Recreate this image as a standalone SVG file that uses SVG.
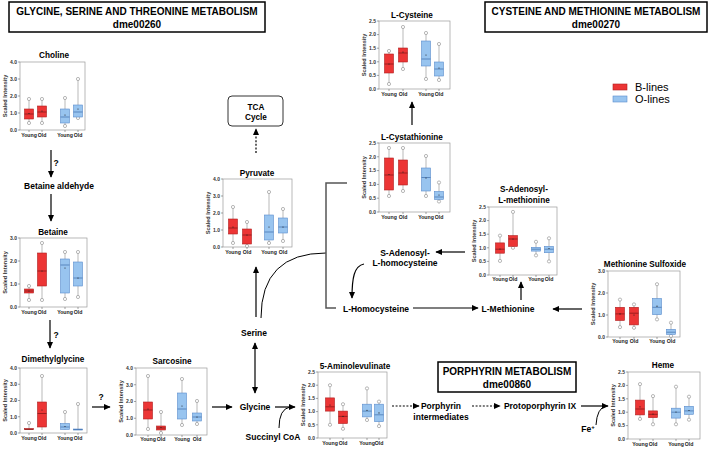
<svg xmlns="http://www.w3.org/2000/svg" width="709" height="450" viewBox="0 0 709 450">
<defs>
<marker id="ah" viewBox="0 0 10 10" refX="9" refY="5" markerUnits="userSpaceOnUse" markerWidth="7" markerHeight="7" orient="auto-start-reverse"><path d="M0,0.5 L10,5 L0,9.5 z" fill="#000"/></marker>
</defs>
<style>
text{font-family:"Liberation Sans",Arial,sans-serif}
.hb{fill:#fff;stroke:#000;stroke-width:1.5}
.hd{font-size:10px;font-weight:bold;text-anchor:middle}
.nm{font-size:8.5px;font-weight:bold;text-anchor:middle}
.ttl{font-size:8.2px;font-weight:bold;text-anchor:middle}
.frame{fill:none;stroke:#9a9a9a;stroke-width:.7}
.tk{stroke:#666;stroke-width:.6;fill:none}
.tl{font-size:5px;font-weight:bold;fill:#333;text-anchor:end}
.yl{font-size:5.6px;font-weight:bold;fill:#333;text-anchor:middle}
.xl{font-size:5.2px;font-weight:bold;fill:#222;text-anchor:middle}
.wh{stroke:#8a8a8a;stroke-width:.6}
.oc{fill:#fff;stroke:#8a8a8a;stroke-width:.6}
.bR{fill:#ec3535;stroke:#b01e1e;stroke-width:.6}
.bB{fill:#98c4ef;stroke:#5a8ccc;stroke-width:.6}
.mR{stroke:#6a0d0d;stroke-width:.6}
.mB{stroke:#2f5f9f;stroke-width:.6}
.mn{fill:#222}
.ar{stroke:#000;stroke-width:1.2;fill:none;marker-end:url(#ah)}
.ar2{stroke:#000;stroke-width:1.2;fill:none;marker-end:url(#ah);marker-start:url(#ah)}
.ln{stroke:#000;stroke-width:1;fill:none}
.br{stroke:#555;stroke-width:1.5;fill:none}
.ds{stroke-dasharray:2 1.6}
.lg{font-size:11px}
</style>

<!-- pathway section headers -->
<g id="hdr-gst"><rect class="hb" x="9" y="2" width="256" height="30"/><text class="hd" x="137" y="14.5">GLYCINE, SERINE AND THREONINE METABOLISM</text><text class="hd" x="137" y="28">dme00260</text></g>
<g id="hdr-cm"><rect class="hb" x="485" y="2" width="222" height="30"/><text class="hd" x="596" y="14.5">CYSTEINE AND METHIONINE METABOLISM</text><text class="hd" x="596" y="28">dme00270</text></g>
<g id="hdr-por"><rect class="hb" x="438" y="362" width="138" height="30"/><text class="hd" x="507" y="375">PORPHYRIN METABOLISM</text><text class="hd" x="507" y="388">dme00860</text></g>

<!-- legend -->
<g id="legend"><rect class="bR" x="613" y="84" width="14" height="6"/><text class="lg" x="635" y="91">B-lines</text><rect class="bB" x="613" y="96" width="14" height="6"/><text class="lg" x="635" y="103">O-lines</text></g>

<!-- connectors -->
<g id="connectors">
<path class="ar" d="M51,150 V177"/>
<path class="ar" d="M51,194 V221"/>
<path class="ar" d="M50,320 V348"/>
<path class="ar" d="M92,407 H110"/>
<path class="ar" d="M212,407 H232"/>
<path class="ar" d="M275,407 H295"/>
<path class="ln" d="M279,428 Q279,409 290,407"/>
<path class="ar2" d="M255,343 V393"/>
<path class="ar" d="M256,317 V267"/>
<path class="ar ds" d="M256,153 V129"/>
<path class="ln" d="M261,318 Q261,253 326,253"/>
<path class="br" d="M347,183 H326 V308 H336"/>
<path class="ar" d="M412,125 V102"/>
<path class="ar" d="M413,308 H478"/>
<path class="ar" d="M521,300 V282"/>
<path class="ar" d="M465,252 H436"/>
<path class="ar" d="M364,264 C354,266 352,278 352,298"/>
<path class="ar" d="M582,309 H553"/>
<path class="ar ds" d="M392,406 H419"/>
<path class="ar ds" d="M472,406 H500"/>
<path class="ar" d="M581,406 H608"/>
<path class="ln" d="M596,425 Q597,408 606,406"/>
</g>

<!-- pathway labels -->
<g id="lbl-q" class="nm"><text x="56" y="166">?</text><text x="56" y="338">?</text><text x="101" y="400">?</text></g>
<g id="n-betald"><text class="nm" x="59" y="189">Betaine aldehyde</text></g>
<g id="n-tca"><rect x="228" y="96" width="55" height="30" rx="4" fill="#fff" stroke="#333" stroke-width="1"/><text class="ttl" x="256" y="110">TCA</text><text class="ttl" x="256" y="120">Cycle</text></g>
<g id="n-serine"><text class="nm" x="254" y="336">Serine</text></g>
<g id="n-glycine"><text class="nm" x="255" y="410">Glycine</text></g>
<g id="n-succ"><text class="nm" x="273" y="440">Succinyl CoA</text></g>
<g id="n-sah"><text class="nm" x="405" y="256">S-Adenosyl-</text><text class="nm" x="405" y="266">L-homocysteine</text></g>
<g id="n-hcy"><text class="nm" x="376" y="312">L-Homocysteine</text></g>
<g id="n-met"><text class="nm" x="508" y="312">L-Methionine</text></g>
<g id="n-porint"><text class="nm" x="441" y="409">Porphyrin</text><text class="nm" x="441" y="420">intermediates</text></g>
<g id="n-ppix"><text class="nm" x="540" y="409">Protoporphyrin IX</text></g>
<g id="n-fe"><text class="nm" x="588" y="432">Fe<tspan font-size="6" dy="-3">+</tspan></text></g>

<!-- Choline -->
<g id="c-choline">
<text class="ttl" x="54" y="58">Choline</text>
<rect class="frame" x="20" y="62" width="65" height="68"/>
<path class="tk" d="M18,62h2M18,79h2M18,96h2M18,113h2M18,130h2M29,130v2M42,130v2M65,130v2M78,130v2"/>
<text class="tl" x="17" y="63.8">4.0</text><text class="tl" x="17" y="80.8">3.0</text><text class="tl" x="17" y="97.8">2.0</text><text class="tl" x="17" y="114.8">1.0</text><text class="tl" x="17" y="131.8">0.0</text>
<text class="yl" transform="translate(7,96) rotate(-90)">Scaled Intensity</text>
<line class="wh" x1="29" y1="99" x2="29" y2="123"/><circle class="oc" cx="29" cy="99" r="1.6"/><circle class="oc" cx="29" cy="123" r="1.6"/><rect class="bR" x="24.5" y="109" width="9" height="10"/><line class="mR" x1="24.5" y1="114" x2="33.5" y2="114"/><circle class="mn" cx="29" cy="113.5" r=".6"/>
<line class="wh" x1="42" y1="99" x2="42" y2="123"/><circle class="oc" cx="42" cy="99" r="1.6"/><circle class="oc" cx="42" cy="123" r="1.6"/><rect class="bR" x="37.5" y="106" width="9" height="11"/><line class="mR" x1="37.5" y1="112" x2="46.5" y2="112"/><circle class="mn" cx="42" cy="111" r=".6"/>
<line class="wh" x1="65" y1="98" x2="65" y2="126"/><circle class="oc" cx="65" cy="98" r="1.6"/><circle class="oc" cx="65" cy="126" r="1.6"/><rect class="bB" x="60.5" y="109" width="9" height="14"/><line class="mB" x1="60.5" y1="117" x2="69.5" y2="117"/><circle class="mn" cx="65" cy="115" r=".6"/>
<line class="wh" x1="78" y1="79" x2="78" y2="118"/><circle class="oc" cx="78" cy="79" r="1.6"/><circle class="oc" cx="78" cy="118" r="1.6"/><rect class="bB" x="73.5" y="105" width="9" height="12"/><line class="mB" x1="73.5" y1="112" x2="82.5" y2="112"/><circle class="mn" cx="78" cy="109" r=".6"/>
<text class="xl" x="29" y="137">Young</text><text class="xl" x="42" y="137">Old</text><text class="xl" x="65" y="137">Young</text><text class="xl" x="78" y="137">Old</text>
</g>

<!-- Betaine -->
<g id="c-betaine">
<text class="ttl" x="53" y="235">Betaine</text>
<rect class="frame" x="20" y="238" width="67" height="69"/>
<path class="tk" d="M18,238h2M18,261h2M18,284h2M18,307h2M29,307v2M42,307v2M65,307v2M78,307v2"/>
<text class="tl" x="17" y="239.8">3.0</text><text class="tl" x="17" y="262.8">2.0</text><text class="tl" x="17" y="285.8">1.0</text><text class="tl" x="17" y="308.8">0.0</text>
<text class="yl" transform="translate(7,272.5) rotate(-90)">Scaled Intensity</text>
<line class="wh" x1="29" y1="286" x2="29" y2="300"/><circle class="oc" cx="29" cy="286" r="1.6"/><circle class="oc" cx="29" cy="300" r="1.6"/><rect class="bR" x="24.5" y="289" width="9" height="4"/><line class="mR" x1="24.5" y1="291" x2="33.5" y2="291"/><circle class="mn" cx="29" cy="291" r=".6"/>
<line class="wh" x1="42" y1="243" x2="42" y2="300"/><circle class="oc" cx="42" cy="243" r="1.6"/><circle class="oc" cx="42" cy="300" r="1.6"/><rect class="bR" x="37.5" y="253" width="9" height="33"/><line class="mR" x1="37.5" y1="271" x2="46.5" y2="271"/><circle class="mn" cx="42" cy="271" r=".6"/>
<line class="wh" x1="65" y1="252" x2="65" y2="299"/><circle class="oc" cx="65" cy="252" r="1.6"/><circle class="oc" cx="65" cy="299" r="1.6"/><rect class="bB" x="60.5" y="259" width="9" height="34"/><line class="mB" x1="60.5" y1="265" x2="69.5" y2="265"/><circle class="mn" cx="65" cy="268" r=".6"/>
<line class="wh" x1="78" y1="252" x2="78" y2="297"/><circle class="oc" cx="78" cy="252" r="1.6"/><circle class="oc" cx="78" cy="297" r="1.6"/><rect class="bB" x="73.5" y="262" width="9" height="24"/><line class="mB" x1="73.5" y1="278" x2="82.5" y2="278"/><circle class="mn" cx="78" cy="278" r=".6"/>
<text class="xl" x="29" y="314">Young</text><text class="xl" x="42" y="314">Old</text><text class="xl" x="65" y="314">Young</text><text class="xl" x="78" y="314">Old</text>
</g>

<!-- Dimethylglycine -->
<g id="c-dmg">
<text class="ttl" x="53" y="362">Dimethylglycine</text>
<rect class="frame" x="20" y="368" width="67" height="65"/>
<path class="tk" d="M18,368h2M18,384.25h2M18,400.5h2M18,416.75h2M18,433h2M29,433v2M42,433v2M65,433v2M78,433v2"/>
<text class="tl" x="17" y="369.8">4.0</text><text class="tl" x="17" y="386">3.0</text><text class="tl" x="17" y="402.3">2.0</text><text class="tl" x="17" y="418.5">1.0</text><text class="tl" x="17" y="434.8">0.0</text>
<text class="yl" transform="translate(7,400.5) rotate(-90)">Scaled Intensity</text>
<line class="wh" x1="29" y1="423" x2="29" y2="429.5"/><circle class="oc" cx="29" cy="423" r="1.6"/><rect class="bR" x="24.5" y="428.6" width="9" height="1"/><line class="mR" x1="24.5" y1="429.3" x2="33.5" y2="429.3"/>
<line class="wh" x1="42" y1="376" x2="42" y2="430"/><circle class="oc" cx="42" cy="376" r="1.6"/><rect class="bR" x="37.5" y="402" width="9" height="25"/><line class="mR" x1="37.5" y1="413.5" x2="46.5" y2="413.5"/><circle class="mn" cx="42" cy="410" r=".6"/>
<line class="wh" x1="65" y1="412" x2="65" y2="430"/><circle class="oc" cx="65" cy="412" r="1.6"/><rect class="bB" x="60.5" y="423.5" width="9" height="6"/><line class="mB" x1="60.5" y1="427" x2="69.5" y2="427"/><circle class="mn" cx="65" cy="426.5" r=".6"/>
<line class="wh" x1="78" y1="404" x2="78" y2="430"/><circle class="oc" cx="78" cy="404" r="1.6"/><rect class="bB" x="73.5" y="429" width="9" height="1"/><line class="mB" x1="73.5" y1="429.6" x2="82.5" y2="429.6"/>
<text class="xl" x="29" y="440">Young</text><text class="xl" x="42" y="440">Old</text><text class="xl" x="65" y="440">Young</text><text class="xl" x="78" y="440">Old</text>
</g>

<!-- Sarcosine -->
<g id="c-sarcosine">
<text class="ttl" x="172" y="364">Sarcosine</text>
<rect class="frame" x="136" y="368" width="71" height="67"/>
<path class="tk" d="M134,368h2M134,384.75h2M134,401.5h2M134,418.25h2M134,435h2M148,435v2M161,435v2M182,435v2M197,435v2"/>
<text class="tl" x="133" y="369.8">4.0</text><text class="tl" x="133" y="386.5">3.0</text><text class="tl" x="133" y="403.3">2.0</text><text class="tl" x="133" y="420">1.0</text><text class="tl" x="133" y="436.8">0.0</text>
<text class="yl" transform="translate(123,401.5) rotate(-90)">Scaled Intensity</text>
<line class="wh" x1="148" y1="376" x2="148" y2="429"/><circle class="oc" cx="148" cy="376" r="1.6"/><circle class="oc" cx="148" cy="429" r="1.6"/><rect class="bR" x="143.5" y="402" width="9" height="17"/><line class="mR" x1="143.5" y1="410" x2="152.5" y2="410"/><circle class="mn" cx="148" cy="409" r=".6"/>
<line class="wh" x1="161" y1="412" x2="161" y2="433"/><circle class="oc" cx="161" cy="412" r="1.6"/><circle class="oc" cx="161" cy="433" r="1.6"/><rect class="bR" x="156.5" y="426" width="9" height="4"/><line class="mR" x1="156.5" y1="428" x2="165.5" y2="428"/><circle class="mn" cx="161" cy="427.5" r=".6"/>
<line class="wh" x1="182" y1="379" x2="182" y2="425"/><circle class="oc" cx="182" cy="379" r="1.6"/><circle class="oc" cx="182" cy="425" r="1.6"/><rect class="bB" x="177.5" y="393" width="9" height="26"/><line class="mB" x1="177.5" y1="409" x2="186.5" y2="409"/><circle class="mn" cx="182" cy="406" r=".6"/>
<line class="wh" x1="197" y1="401" x2="197" y2="424"/><circle class="oc" cx="197" cy="401" r="1.6"/><circle class="oc" cx="197" cy="424" r="1.6"/><rect class="bB" x="192.5" y="413" width="9" height="8"/><line class="mB" x1="192.5" y1="417" x2="201.5" y2="417"/><circle class="mn" cx="197" cy="417" r=".6"/>
<text class="xl" x="148" y="441">Young</text><text class="xl" x="161" y="441">Old</text><text class="xl" x="182" y="441">Young</text><text class="xl" x="197" y="441">Old</text>
</g>

<!-- Pyruvate -->
<g id="c-pyruvate">
<text class="ttl" x="257" y="176">Pyruvate</text>
<rect class="frame" x="223" y="179" width="69" height="68"/>
<path class="tk" d="M221,179h2M221,196h2M221,213h2M221,230h2M221,247h2M233,247v2M247,247v2M269,247v2M283,247v2"/>
<text class="tl" x="220" y="180.8">4.0</text><text class="tl" x="220" y="197.8">3.0</text><text class="tl" x="220" y="214.8">2.0</text><text class="tl" x="220" y="231.8">1.0</text><text class="tl" x="220" y="248.8">0.0</text>
<text class="yl" transform="translate(210,213) rotate(-90)">Scaled Intensity</text>
<line class="wh" x1="233" y1="207" x2="233" y2="243"/><circle class="oc" cx="233" cy="207" r="1.6"/><circle class="oc" cx="233" cy="243" r="1.6"/><rect class="bR" x="228.5" y="219" width="9" height="15"/><line class="mR" x1="228.5" y1="228" x2="237.5" y2="228"/><circle class="mn" cx="233" cy="227" r=".6"/>
<line class="wh" x1="247" y1="222" x2="247" y2="246"/><circle class="oc" cx="247" cy="222" r="1.6"/><circle class="oc" cx="247" cy="246" r="1.6"/><rect class="bR" x="242.5" y="229" width="9" height="15"/><line class="mR" x1="242.5" y1="235" x2="251.5" y2="235"/><circle class="mn" cx="247" cy="235" r=".6"/>
<line class="wh" x1="269" y1="192" x2="269" y2="243"/><circle class="oc" cx="269" cy="192" r="1.6"/><circle class="oc" cx="269" cy="243" r="1.6"/><rect class="bB" x="264.5" y="215" width="9" height="25"/><line class="mB" x1="264.5" y1="232" x2="273.5" y2="232"/><circle class="mn" cx="269" cy="227" r=".6"/>
<line class="wh" x1="283" y1="209" x2="283" y2="241"/><circle class="oc" cx="283" cy="209" r="1.6"/><circle class="oc" cx="283" cy="241" r="1.6"/><rect class="bB" x="278.5" y="218" width="9" height="15"/><line class="mB" x1="278.5" y1="227" x2="287.5" y2="227"/><circle class="mn" cx="283" cy="227" r=".6"/>
<text class="xl" x="233" y="254">Young</text><text class="xl" x="247" y="254">Old</text><text class="xl" x="269" y="254">Young</text><text class="xl" x="283" y="254">Old</text>
</g>

<!-- L-Cysteine -->
<g id="c-cys">
<text class="ttl" x="412" y="18">L-Cysteine</text>
<rect class="frame" x="379" y="21" width="71" height="68"/>
<path class="tk" d="M377,21h2M377,34.6h2M377,48.2h2M377,61.8h2M377,75.4h2M377,89h2M389,89v2M403,89v2M426,89v2M439,89v2"/>
<text class="tl" x="376" y="22.8">2.5</text><text class="tl" x="376" y="36.4">2.0</text><text class="tl" x="376" y="50">1.5</text><text class="tl" x="376" y="63.6">1.0</text><text class="tl" x="376" y="77.2">0.5</text><text class="tl" x="376" y="90.8">0.0</text>
<text class="yl" transform="translate(366,55) rotate(-90)">Scaled Intensity</text>
<line class="wh" x1="389" y1="51" x2="389" y2="84"/><circle class="oc" cx="389" cy="51" r="1.6"/><circle class="oc" cx="389" cy="84" r="1.6"/><rect class="bR" x="384.5" y="54" width="9" height="19"/><line class="mR" x1="384.5" y1="64" x2="393.5" y2="64"/><circle class="mn" cx="389" cy="64" r=".6"/>
<line class="wh" x1="403" y1="27" x2="403" y2="69"/><circle class="oc" cx="403" cy="27" r="1.6"/><circle class="oc" cx="403" cy="69" r="1.6"/><rect class="bR" x="398.5" y="48" width="9" height="14"/><line class="mR" x1="398.5" y1="53" x2="407.5" y2="53"/><circle class="mn" cx="403" cy="52" r=".6"/>
<line class="wh" x1="426" y1="33" x2="426" y2="79"/><circle class="oc" cx="426" cy="33" r="1.6"/><circle class="oc" cx="426" cy="79" r="1.6"/><rect class="bB" x="421.5" y="41" width="9" height="25"/><line class="mB" x1="421.5" y1="59" x2="430.5" y2="59"/><circle class="mn" cx="426" cy="55" r=".6"/>
<line class="wh" x1="439" y1="44" x2="439" y2="80"/><circle class="oc" cx="439" cy="44" r="1.6"/><circle class="oc" cx="439" cy="80" r="1.6"/><rect class="bB" x="434.5" y="62" width="9" height="14"/><line class="mB" x1="434.5" y1="69" x2="443.5" y2="69"/><circle class="mn" cx="439" cy="68" r=".6"/>
<text class="xl" x="389" y="96">Young</text><text class="xl" x="403" y="96">Old</text><text class="xl" x="426" y="96">Young</text><text class="xl" x="439" y="96">Old</text>
</g>

<!-- L-Cystathionine -->
<g id="c-cth">
<text class="ttl" x="412" y="140">L-Cystathionine</text>
<rect class="frame" x="379" y="143" width="71" height="69"/>
<path class="tk" d="M377,143h2M377,156.8h2M377,170.6h2M377,184.4h2M377,198.2h2M377,212h2M389,212v2M403,212v2M426,212v2M439,212v2"/>
<text class="tl" x="376" y="144.8">2.5</text><text class="tl" x="376" y="158.6">2.0</text><text class="tl" x="376" y="172.4">1.5</text><text class="tl" x="376" y="186.2">1.0</text><text class="tl" x="376" y="200">0.5</text><text class="tl" x="376" y="213.8">0.0</text>
<text class="yl" transform="translate(366,177.5) rotate(-90)">Scaled Intensity</text>
<line class="wh" x1="389" y1="148" x2="389" y2="196"/><circle class="oc" cx="389" cy="148" r="1.6"/><circle class="oc" cx="389" cy="196" r="1.6"/><rect class="bR" x="384.5" y="158" width="9" height="32"/><line class="mR" x1="384.5" y1="175" x2="393.5" y2="175"/><circle class="mn" cx="389" cy="174.5" r=".6"/>
<line class="wh" x1="403" y1="148" x2="403" y2="191"/><circle class="oc" cx="403" cy="148" r="1.6"/><circle class="oc" cx="403" cy="191" r="1.6"/><rect class="bR" x="398.5" y="160" width="9" height="25"/><line class="mR" x1="398.5" y1="173" x2="407.5" y2="173"/><circle class="mn" cx="403" cy="172" r=".6"/>
<line class="wh" x1="426" y1="156" x2="426" y2="196"/><circle class="oc" cx="426" cy="156" r="1.6"/><circle class="oc" cx="426" cy="196" r="1.6"/><rect class="bB" x="421.5" y="168" width="9" height="23"/><line class="mB" x1="421.5" y1="177.5" x2="430.5" y2="177.5"/><circle class="mn" cx="426" cy="178" r=".6"/>
<line class="wh" x1="439" y1="182.5" x2="439" y2="201.5"/><circle class="oc" cx="439" cy="182.5" r="1.6"/><circle class="oc" cx="439" cy="201.5" r="1.6"/><rect class="bB" x="434.5" y="191.5" width="9" height="8"/><line class="mB" x1="434.5" y1="197" x2="443.5" y2="197"/><circle class="mn" cx="439" cy="195" r=".6"/>
<text class="xl" x="389" y="219">Young</text><text class="xl" x="403" y="219">Old</text><text class="xl" x="426" y="219">Young</text><text class="xl" x="439" y="219">Old</text>
</g>

<!-- S-Adenosyl-L-methionine -->
<g id="c-sam">
<text class="ttl" x="524" y="192">S-Adenosyl-</text><text class="ttl" x="524" y="203">L-methionine</text>
<rect class="frame" x="489" y="207" width="68" height="68"/>
<path class="tk" d="M487,207h2M487,220.6h2M487,234.2h2M487,247.8h2M487,261.4h2M487,275h2M500,275v2M513,275v2M536,275v2M549,275v2"/>
<text class="tl" x="486" y="208.8">2.5</text><text class="tl" x="486" y="222.4">2.0</text><text class="tl" x="486" y="236">1.5</text><text class="tl" x="486" y="249.6">1.0</text><text class="tl" x="486" y="263.2">0.5</text><text class="tl" x="486" y="276.8">0.0</text>
<text class="yl" transform="translate(476,241) rotate(-90)">Scaled Intensity</text>
<line class="wh" x1="500" y1="235.6" x2="500" y2="260.9"/><circle class="oc" cx="500" cy="235.6" r="1.6"/><circle class="oc" cx="500" cy="260.9" r="1.6"/><rect class="bR" x="495.5" y="242.9" width="9" height="10.3"/><line class="mR" x1="495.5" y1="249.2" x2="504.5" y2="249.2"/><circle class="mn" cx="500" cy="249" r=".6"/>
<line class="wh" x1="513" y1="211.9" x2="513" y2="247.8"/><circle class="oc" cx="513" cy="211.9" r="1.6"/><circle class="oc" cx="513" cy="247.8" r="1.6"/><rect class="bR" x="508.5" y="235.6" width="9" height="10.8"/><line class="mR" x1="508.5" y1="239" x2="517.5" y2="239"/><circle class="mn" cx="513" cy="239" r=".6"/>
<line class="wh" x1="536" y1="241.8" x2="536" y2="255.4"/><circle class="oc" cx="536" cy="241.8" r="1.6"/><circle class="oc" cx="536" cy="255.4" r="1.6"/><rect class="bB" x="531.5" y="247.3" width="9" height="3.8"/><line class="mB" x1="531.5" y1="249.2" x2="540.5" y2="249.2"/>
<line class="wh" x1="549" y1="238.3" x2="549" y2="261.4"/><circle class="oc" cx="549" cy="238.3" r="1.6"/><circle class="oc" cx="549" cy="261.4" r="1.6"/><rect class="bB" x="544.5" y="246.4" width="9" height="6.3"/><line class="mB" x1="544.5" y1="249.2" x2="553.5" y2="249.2"/><circle class="mn" cx="549" cy="248.5" r=".6"/>
<text class="xl" x="500" y="281">Young</text><text class="xl" x="513" y="281">Old</text><text class="xl" x="536" y="281">Young</text><text class="xl" x="549" y="281">Old</text>
</g>

<!-- Methionine Sulfoxide -->
<g id="c-metso">
<text class="ttl" x="645" y="267">Methionine Sulfoxide</text>
<rect class="frame" x="608" y="271" width="72" height="66"/>
<path class="tk" d="M606,271h2M606,293h2M606,315h2M606,337h2M620,337v2M634,337v2M657,337v2M671,337v2"/>
<text class="tl" x="605" y="272.8">3.0</text><text class="tl" x="605" y="294.8">2.0</text><text class="tl" x="605" y="316.8">1.0</text><text class="tl" x="605" y="338.8">0.0</text>
<text class="yl" transform="translate(595,304) rotate(-90)">Scaled Intensity</text>
<line class="wh" x1="620" y1="299.6" x2="620" y2="327.1"/><circle class="oc" cx="620" cy="299.6" r="1.6"/><circle class="oc" cx="620" cy="327.1" r="1.6"/><rect class="bR" x="615.5" y="307.3" width="9" height="13.2"/><line class="mR" x1="615.5" y1="313.9" x2="624.5" y2="313.9"/><circle class="mn" cx="620" cy="313.9" r=".6"/>
<line class="wh" x1="634" y1="304.4" x2="634" y2="327.8"/><circle class="oc" cx="634" cy="304.4" r="1.6"/><circle class="oc" cx="634" cy="327.8" r="1.6"/><rect class="bR" x="629.5" y="307.3" width="9" height="17.6"/><line class="mR" x1="629.5" y1="313.2" x2="638.5" y2="313.2"/><circle class="mn" cx="634" cy="315" r=".6"/>
<line class="wh" x1="657" y1="284.2" x2="657" y2="319.4"/><circle class="oc" cx="657" cy="284.2" r="1.6"/><circle class="oc" cx="657" cy="319.4" r="1.6"/><rect class="bB" x="652.5" y="298.5" width="9" height="16.1"/><line class="mB" x1="652.5" y1="307.3" x2="661.5" y2="307.3"/><circle class="mn" cx="657" cy="306.2" r=".6"/>
<line class="wh" x1="671" y1="322.7" x2="671" y2="335.9"/><circle class="oc" cx="671" cy="322.7" r="1.6"/><circle class="oc" cx="671" cy="335.9" r="1.6"/><rect class="bB" x="666.5" y="329.3" width="9" height="5.1"/><line class="mB" x1="666.5" y1="332.2" x2="675.5" y2="332.2"/>
<text class="xl" x="620" y="343">Young</text><text class="xl" x="634" y="343">Old</text><text class="xl" x="657" y="343">Young</text><text class="xl" x="671" y="343">Old</text>
</g>

<!-- 5-Aminolevulinate -->
<g id="c-ala">
<text class="ttl" x="355" y="369">5-Aminolevulinate</text>
<rect class="frame" x="318" y="372" width="69" height="66"/>
<path class="tk" d="M316,372h2M316,385.2h2M316,398.4h2M316,411.6h2M316,424.8h2M316,438h2M330,438v2M343,438v2M367,438v2M379,438v2"/>
<text class="tl" x="315" y="373.8">2.5</text><text class="tl" x="315" y="387">2.0</text><text class="tl" x="315" y="400.2">1.5</text><text class="tl" x="315" y="413.4">1.0</text><text class="tl" x="315" y="426.6">0.5</text><text class="tl" x="315" y="439.8">0.0</text>
<text class="yl" transform="translate(305,405) rotate(-90)">Scaled Intensity</text>
<line class="wh" x1="330" y1="385.2" x2="330" y2="424.8"/><circle class="oc" cx="330" cy="385.2" r="1.6"/><circle class="oc" cx="330" cy="424.8" r="1.6"/><rect class="bR" x="325.5" y="397.9" width="9" height="13.2"/><line class="mR" x1="325.5" y1="406.8" x2="334.5" y2="406.8"/><circle class="mn" cx="330" cy="405" r=".6"/>
<line class="wh" x1="343" y1="404.2" x2="343" y2="428.8"/><circle class="oc" cx="343" cy="404.2" r="1.6"/><circle class="oc" cx="343" cy="428.8" r="1.6"/><rect class="bR" x="338.5" y="411.1" width="9" height="12.4"/><line class="mR" x1="338.5" y1="416.4" x2="347.5" y2="416.4"/><circle class="mn" cx="343" cy="416.4" r=".6"/>
<line class="wh" x1="367" y1="388.4" x2="367" y2="420"/><circle class="oc" cx="367" cy="388.4" r="1.6"/><circle class="oc" cx="367" cy="420" r="1.6"/><rect class="bB" x="362.5" y="404.2" width="9" height="12.7"/><line class="mB" x1="362.5" y1="411.1" x2="371.5" y2="411.1"/><circle class="mn" cx="367" cy="410.3" r=".6"/>
<line class="wh" x1="379" y1="401.6" x2="379" y2="426.1"/><circle class="oc" cx="379" cy="401.6" r="1.6"/><circle class="oc" cx="379" cy="426.1" r="1.6"/><rect class="bB" x="374.5" y="404.2" width="9" height="17.4"/><line class="mB" x1="374.5" y1="414.8" x2="383.5" y2="414.8"/><circle class="mn" cx="379" cy="412.9" r=".6"/>
<text class="xl" x="330" y="445">Young</text><text class="xl" x="343" y="445">Old</text><text class="xl" x="367" y="445">Young</text><text class="xl" x="379" y="445">Old</text>
</g>

<!-- Heme -->
<g id="c-heme">
<text class="ttl" x="663" y="368">Heme</text>
<rect class="frame" x="628" y="372" width="72" height="67"/>
<path class="tk" d="M626,372h2M626,385.4h2M626,398.8h2M626,412.2h2M626,425.6h2M626,439h2M640,439v2M653,439v2M676,439v2M689,439v2"/>
<text class="tl" x="625" y="373.8">2.5</text><text class="tl" x="625" y="387.2">2.0</text><text class="tl" x="625" y="400.6">1.5</text><text class="tl" x="625" y="414">1.0</text><text class="tl" x="625" y="427.4">0.5</text><text class="tl" x="625" y="440.8">0.0</text>
<text class="yl" transform="translate(615,405.5) rotate(-90)">Scaled Intensity</text>
<line class="wh" x1="640" y1="384.1" x2="640" y2="418.9"/><circle class="oc" cx="640" cy="384.1" r="1.6"/><circle class="oc" cx="640" cy="418.9" r="1.6"/><rect class="bR" x="635.5" y="400.1" width="9" height="14.8"/><line class="mR" x1="635.5" y1="409" x2="644.5" y2="409"/><circle class="mn" cx="640" cy="406.8" r=".6"/>
<line class="wh" x1="653" y1="396.1" x2="653" y2="424.3"/><circle class="oc" cx="653" cy="396.1" r="1.6"/><circle class="oc" cx="653" cy="424.3" r="1.6"/><rect class="bR" x="648.5" y="410.9" width="9" height="6.7"/><line class="mR" x1="648.5" y1="414.3" x2="657.5" y2="414.3"/><circle class="mn" cx="653" cy="414" r=".6"/>
<line class="wh" x1="676" y1="386.7" x2="676" y2="424.3"/><circle class="oc" cx="676" cy="386.7" r="1.6"/><circle class="oc" cx="676" cy="424.3" r="1.6"/><rect class="bB" x="671.5" y="408.2" width="9" height="9.9"/><line class="mB" x1="671.5" y1="412.2" x2="680.5" y2="412.2"/><circle class="mn" cx="676" cy="412" r=".6"/>
<line class="wh" x1="689" y1="396.7" x2="689" y2="419.7"/><circle class="oc" cx="689" cy="396.7" r="1.6"/><circle class="oc" cx="689" cy="419.7" r="1.6"/><rect class="bB" x="684.5" y="406.3" width="9" height="8"/><line class="mB" x1="684.5" y1="410.9" x2="693.5" y2="410.9"/><circle class="mn" cx="689" cy="410.5" r=".6"/>
<text class="xl" x="640" y="446">Young</text><text class="xl" x="653" y="446">Old</text><text class="xl" x="676" y="446">Young</text><text class="xl" x="689" y="446">Old</text>
</g>
</svg>
